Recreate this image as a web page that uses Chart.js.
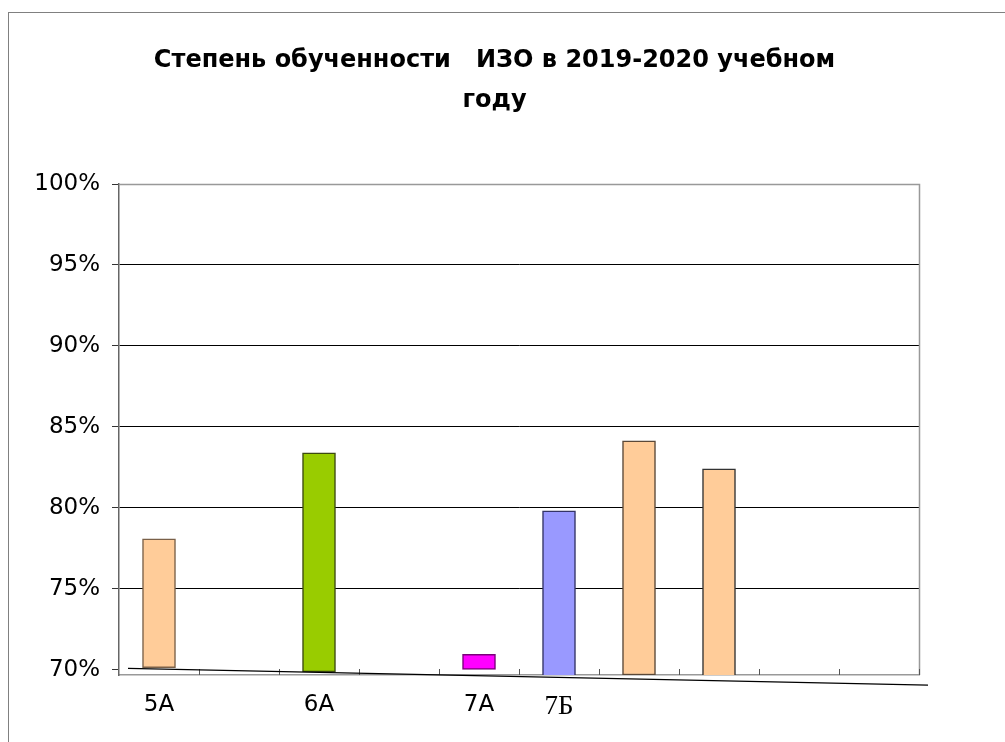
<!DOCTYPE html>
<html>
<head>
<meta charset="utf-8">
<script src="https://cdn.jsdelivr.net/npm/chart.js@4"></script>
<style>
  body { margin: 0; background: #fff; }
  #wrap { position: relative; width: 1005px; height: 742px; overflow: hidden; }
  #frame { position: absolute; left: 8px; top: 12px; width: 1200px; height: 1000px;
           border-left: 1px solid #808080; border-top: 1px solid #808080; }
  canvas { position: absolute; left: 0; top: 0; }
</style>
</head>
<body>
<div id="wrap">
  <div id="frame"></div>
  <canvas id="myChart" width="1005" height="742"></canvas>
</div>
<script>
// данные с картинки
var categories = ['5A', '', '6A', '', '7A', '7Б', '', '', '', ''];
var barTops  = [78.1, null, 83.4, null, 70.97, 79.83, 84.15, 82.41, null, null];
var barBases = [70.14, null, 69.88, null, 70.04, 69.57, 69.69, 69.32, null, null];
var yTicks = [70, 75, 80, 85, 90, 95, 100];

var fills   = ['#FFCC99', null, '#99CC00', null, '#FF00FF', '#9999FF', '#FFCC99', '#FFCC99', null, null];
var borders = ['#7A6048', null, '#3C4A10', null, '#7A007A', '#333366', '#5A4838', '#333333', null, null];

var barData = barTops.map(function (v, i) {
    return v === null ? null : [barBases[i], v];
});

// рамка области построения, внутренние засечки и наклонная линия
var plotDecor = {
    id: 'plotDecor',
    beforeDatasetsDraw: function (chart) {
        var ctx = chart.ctx, a = chart.chartArea;
        ctx.save();
        ctx.strokeStyle = '#999';
        ctx.lineWidth = 1.5;
        ctx.beginPath();
        ctx.moveTo(a.left, a.top + 0.5);
        ctx.lineTo(a.right + 0.5, a.top + 0.5);
        ctx.lineTo(a.right + 0.5, a.bottom);
        ctx.stroke();
        // засечки оси X внутрь
        var xs = chart.scales.x;
        var half = (xs.getPixelForValue(1) - xs.getPixelForValue(0)) / 2;
        ctx.strokeStyle = '#555';
        ctx.lineWidth = 1;
        ctx.beginPath();
        for (var i = 0; i < categories.length; i++) {
            var x = Math.round(xs.getPixelForValue(i) + half) + 0.5;
            ctx.moveTo(x, a.bottom);
            ctx.lineTo(x, a.bottom - 6);
        }
        ctx.stroke();
        ctx.restore();
    },
    afterDatasetsDraw: function (chart) {
        var ctx = chart.ctx, a = chart.chartArea;
        var ys = chart.scales.y;
        ctx.save();
        ctx.strokeStyle = '#000';
        ctx.lineWidth = 1.2;
        ctx.beginPath();
        ctx.moveTo(a.left + 9, ys.getPixelForValue(70.1));
        ctx.lineTo(a.right + 9, ys.getPixelForValue(69.06));
        ctx.stroke();
        ctx.restore();
    }
};

var ctx = document.getElementById('myChart').getContext('2d');
var myChart = new Chart(ctx, {
    type: 'bar',
    data: {
        labels: categories,
        datasets: [{
            data: barData,
            backgroundColor: fills,
            borderColor: borders,
            borderWidth: 1.5,
            borderSkipped: false,
            barThickness: 33
        }]
    },
    options: {
        responsive: false,
        animation: false,
        layout: { padding: { left: 0, right: 16, top: 0, bottom: 0 } },
        plugins: {
            legend: { display: false },
            tooltip: { enabled: false },
            title: {
                display: true,
                text: ['Степень обученности   ИЗО в 2019-2020 учебном', 'году'],
                color: '#000',
                font: { family: 'DejaVu Sans', size: 24, weight: 'bold', lineHeight: '40px' },
                padding: { top: 41, bottom: 63 }
            }
        },
        scales: {
            x: {
                offset: true,
                grid: { offset: true, drawOnChartArea: false, drawTicks: false },
                border: { color: '#999', width: 1.5 },
                ticks: {
                    color: '#000',
                    padding: 16,
                    autoSkip: false,
                    maxRotation: 0,
                    font: function (c) {
                        return c.index === 5
                            ? { family: 'Liberation Serif', size: 27 }
                            : { family: 'DejaVu Sans', size: 23 };
                    }
                },
                afterFit: function (s) { s.height = 67; }
            },
            y: {
                min: 69.69,
                max: 100,
                afterBuildTicks: function (s) {
                    s.ticks = yTicks.map(function (v) { return { value: v }; });
                },
                grid: {
                    color: function (c) {
                        if (c.tick.value === 70) return 'rgba(0,0,0,0)';
                        if (c.tick.value === 100) return '#999';
                        return '#000';
                    },
                    tickColor: '#333',
                    tickLength: 7
                },
                border: { color: '#666', width: 1.5 },
                ticks: {
                    color: '#000',
                    padding: 12,
                    font: { family: 'DejaVu Sans', size: 23 },
                    callback: function (v) { return v + '%'; }
                },
                afterFit: function (s) { s.width = 119; }
            },
            // пустая правая ось — держит поле справа
            yRight: {
                position: 'right',
                display: true,
                grid: { display: false },
                border: { display: false },
                ticks: { display: false },
                afterFit: function (s) { s.width = 70; }
            }
        }
    },
    plugins: [plotDecor]
});
</script>
</body>
</html>
